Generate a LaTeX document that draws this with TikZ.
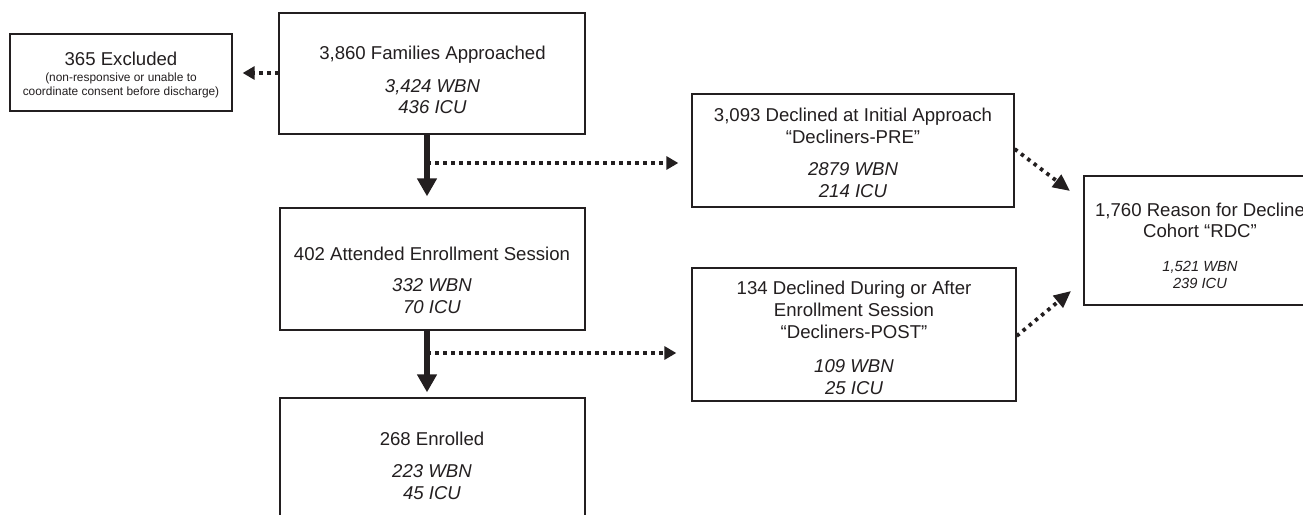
\documentclass[tikz,border=0pt]{standalone}
\usepackage{fontspec}
\setmainfont{Liberation Sans}
\usetikzlibrary{arrows.meta,calc}
\definecolor{ink}{HTML}{231F20}
\newcommand\mainsz{\fontsize{18.6}{21}\selectfont}
\newcommand\itsz{\fontsize{18.6}{21}\selectfont\itshape}
\newcommand\smallsz{\fontsize{11.9}{14}\selectfont}
\newcommand\rdcitsz{\fontsize{14.7}{17}\selectfont\itshape}
\tikzset{
  box/.style={draw=ink, line width=1.3pt, rectangle, inner sep=0pt, fill=white},
  txt/.style={anchor=base, inner sep=0pt, text=ink},
  thickarr/.style={draw=ink, line width=6pt, -{Triangle[width=19pt,length=18pt]}},
  dotarr/.style={draw=ink, line width=3.8pt, dash pattern=on 4pt off 4pt, -{Triangle[width=13pt,length=12pt]}},
  diagarr/.style={draw=ink, line width=3.8pt, dash pattern=on 3.5pt off 4.5pt, -{Triangle[width=15pt,length=17pt]}}
}
\begin{document}
\begin{tikzpicture}[x=1pt,y=-1pt]
\useasboundingbox (0,0) rectangle (1303,514);
\clip (0,0) rectangle (1303,514);

% boxes
\node[box, minimum width=222pt, minimum height=77pt] (excl) at (121,72.5) {};
\node[box, minimum width=306pt, minimum height=121pt] (fam) at (432,73.5) {};
\node[box, minimum width=305pt, minimum height=122pt] (att) at (432.5,269) {};
\node[box, minimum width=305pt, minimum height=132pt] (enr) at (432.5,464) {};
\node[box, minimum width=322pt, minimum height=113pt] (pre) at (853,150.5) {};
\node[box, minimum width=324pt, minimum height=133pt] (post) at (854,334.5) {};
\node[box, minimum width=232pt, minimum height=129pt] (rdc) at (1200,240.5) {};

% texts
\node[txt] (excl1) at (121,65.7) {\mainsz 365 Excluded};
\node[txt] (excl2) at (121,81) {\smallsz (non-responsive or unable to};
\node[txt] (excl3) at (121,95) {\smallsz coordinate consent before discharge)};

\node[txt] (fam1) at (432.5,59.5) {\mainsz 3,860 Families Approached};
\node[txt] (fam2) at (432.5,92) {\itsz 3,424 WBN};
\node[txt] (fam3) at (432.5,113) {\itsz 436 ICU};

\node[txt] (att1) at (432,260) {\mainsz 402 Attended Enrollment Session};
\node[txt] (att2) at (432,291) {\itsz 332 WBN};
\node[txt] (att3) at (432,313) {\itsz 70 ICU};

\node[txt] (enr1) at (432,445.5) {\mainsz 268 Enrolled};
\node[txt] (enr2) at (432,477.5) {\itsz 223 WBN};
\node[txt] (enr3) at (432,499) {\itsz 45 ICU};

\node[txt] (pre1) at (853,121.5) {\mainsz 3,093 Declined at Initial Approach};
\node[txt] (pre2) at (853,143.5) {\mainsz ``Decliners-PRE''};
\node[txt] (pre3) at (853,175.5) {\itsz 2879 WBN};
\node[txt] (pre4) at (853,197.5) {\itsz 214 ICU};

\node[txt] (post1) at (854,294.5) {\mainsz 134 Declined During or After};
\node[txt] (post2) at (854,316.5) {\mainsz Enrollment Session};
\node[txt] (post3) at (854,338.5) {\mainsz ``Decliners-POST''};
\node[txt] (post4) at (854,372.5) {\itsz 109 WBN};
\node[txt] (post5) at (854,394.5) {\itsz 25 ICU};

\node[txt] (rdc1) at (1200,216) {\mainsz 1,760 Reason for Decline};
\node[txt] (rdc2) at (1200,237) {\mainsz Cohort ``RDC''};
\node[txt] (rdc3) at (1200,271) {\rdcitsz 1,521 WBN};
\node[txt] (rdc4) at (1200,288) {\rdcitsz 239 ICU};

% connectors
\coordinate (j0) at (279,73);
\coordinate (j1) at (427,163);
\coordinate (j2) at (427,353);
\coordinate (t1) at (1070,191);
\coordinate (t2) at (1071,291);

\draw[dotarr, shorten >=10pt] (j0) -- (j0 -| excl.east);
\draw[thickarr, shorten >=11pt] ([xshift=-5pt]fam.south) -- ([xshift=-5pt]fam.south |- att.north);
\draw[thickarr, shorten >=5pt] ([xshift=-5.5pt]att.south) -- ([xshift=-5.5pt]att.south |- enr.north);
\draw[dotarr, shorten >=13pt] (j1) -- (j1 -| pre.west);
\draw[dotarr, shorten >=15pt] (j2) -- (j2 -| post.west);
\draw[diagarr] ([yshift=1.5pt]pre.east) -- (t1);
\draw[diagarr] ([yshift=-1.5pt]post.east) -- (t2);
\end{tikzpicture}
\end{document}
